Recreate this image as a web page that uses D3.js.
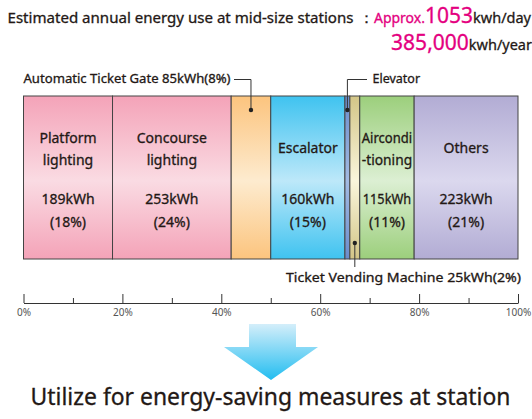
<!DOCTYPE html>
<html>
<head>
<meta charset="utf-8">
<script src="https://cdn.jsdelivr.net/npm/d3@7"></script>
<style>
  body { margin: 0; background: #fff; }
  svg { display: block; font-family: "Noto Sans", "DejaVu Sans", sans-serif; }
  .heavy { stroke: currentColor; stroke-width: 0.3px; }
</style>
</head>
<body>
<div id="chart"></div>
<script>
// data
var categories = ["Platform lighting", "Concourse lighting", "Automatic Ticket Gate", "Escalator",
                  "Elevator", "Ticket Vending Machine", "Airconditioning", "Others"];
var pctValues = [18, 24, 8, 15, 1, 2, 11, 21];
var kwhValues = [189, 253, 85, 160, null, 25, 115, 223];
var nameLines = [["Platform", "lighting"], ["Concourse", "lighting"], null, ["Escalator"],
                 null, null, ["Aircondi", "-tioning"], ["Others"]];
var majorTicks = [0, 20, 40, 60, 80, 100];
var minorTicks = [10, 30, 50, 70, 90];
var dailyUse = "1053";
var yearlyUse = "385,000";

var ctx = {
    w: 532,
    h: 419,
    barTop: 96,
    barBottom: 259,
    axisY: 303,
    textColor: "#231815",
    pink: "#e4007f",
    baseColors: ["#f4a3b8", "#f4a3b8", "#fcc47e", "#3fc3f0", "#6b8dcb", "#d2c587", "#9ccf7c", "#b2acd4"],
    lightColors: ["#fadbe3", "#fadbe3", "#fdebcf", "#bde8f9", "#a3bbe2", "#faf6dc", "#dcefd3", "#dbd8ee"]
};

var svg = d3.select("#chart").append("svg")
    .attr("width", ctx.w)
    .attr("height", ctx.h)
    .style("color", ctx.textColor);

var x = d3.scaleLinear().domain([0, 100]).range([23.5, 518]);

// cumulative start of each segment
var starts = [];
var acc = 0;
pctValues.forEach(function(p) { starts.push(acc); acc += p; });

var segs = categories.map(function(c, i) {
    return { name: c, pct: pctValues[i], kwh: kwhValues[i], start: starts[i], lines: nameLines[i], i: i };
});

// gradients
var defs = svg.append("defs");
segs.forEach(function(d) {
    var g = defs.append("linearGradient")
        .attr("id", "grad" + d.i)
        .attr("x1", 0).attr("y1", 0).attr("x2", 0).attr("y2", 1);
    g.append("stop").attr("offset", "0%").attr("stop-color", ctx.baseColors[d.i]);
    g.append("stop").attr("offset", "52%").attr("stop-color", ctx.lightColors[d.i]);
    g.append("stop").attr("offset", "100%").attr("stop-color", ctx.baseColors[d.i]);
});
var ag = defs.append("linearGradient")
    .attr("id", "arrowGrad")
    .attr("x1", 0).attr("y1", 0).attr("x2", 0).attr("y2", 1);
ag.append("stop").attr("offset", "0%").attr("stop-color", "#d4eefa");
ag.append("stop").attr("offset", "100%").attr("stop-color", "#22bdf0");

// title
svg.append("text")
    .attr("class", "heavy")
    .attr("x", 7.5).attr("y", 23)
    .attr("font-size", 14.5)
    .attr("fill", ctx.textColor)
    .attr("textLength", 346)
    .attr("lengthAdjust", "spacingAndGlyphs")
    .text("Estimated annual energy use at mid-size stations");

var t1 = svg.append("text")
    .attr("x", 531).attr("y", 23)
    .attr("text-anchor", "end")
    .attr("font-size", 14.5)
    .attr("fill", ctx.textColor)
    .attr("stroke", ctx.textColor)
    .attr("stroke-width", 0.3);
t1.append("tspan").text("：");
t1.append("tspan").attr("fill", ctx.pink).attr("stroke", ctx.pink).attr("font-size", 14).text("Approx.");
t1.append("tspan").attr("fill", ctx.pink).attr("stroke", ctx.pink).attr("font-size", 21).text(dailyUse);
t1.append("tspan").text("kwh/day");

var t2 = svg.append("text")
    .attr("x", 532).attr("y", 50)
    .attr("text-anchor", "end")
    .attr("font-size", 14.5)
    .attr("fill", ctx.textColor)
    .attr("stroke", ctx.textColor)
    .attr("stroke-width", 0.3);
t2.append("tspan").attr("fill", ctx.pink).attr("stroke", ctx.pink).attr("font-size", 21).text(yearlyUse);
t2.append("tspan").text("kwh/year");

// bar segments
var bar = svg.append("g").attr("id", "bar");
bar.selectAll("rect")
    .data(segs)
    .enter()
    .append("rect")
    .attr("x", d => x(d.start))
    .attr("y", ctx.barTop)
    .attr("width", d => x(d.start + d.pct) - x(d.start))
    .attr("height", ctx.barBottom - ctx.barTop)
    .attr("fill", d => "url(#grad" + d.i + ")")
    .attr("stroke", "#444")
    .attr("stroke-width", 1);

// labels inside the bar
var labelled = segs.filter(d => d.lines);
var lab = bar.selectAll(".seglabel")
    .data(labelled)
    .enter()
    .append("g")
    .attr("class", "seglabel heavy")
    .attr("transform", d => "translate(" + (x(d.start) + x(d.start + d.pct)) / 2 + ",0)")
    .attr("font-size", 14)
    .attr("fill", ctx.textColor)
    .attr("text-anchor", "middle");

lab.each(function(d) {
    var g = d3.select(this);
    var ys = d.lines.length == 2 ? [143, 165] : [153];
    var segW = x(d.start + d.pct) - x(d.start);
    d.lines.forEach(function(line, k) {
        var t = g.append("text").attr("y", ys[k]).text(line);
        if (segW < 60) {
            t.attr("textLength", segW - 4).attr("lengthAdjust", "spacingAndGlyphs");
        }
    });
    g.append("text").attr("y", 204).text(d.kwh + "kWh")
        .attr("textLength", segW < 60 ? segW - 6 : null)
        .attr("lengthAdjust", "spacingAndGlyphs");
    g.append("text").attr("y", 227).text("(" + d.pct + "%)");
});

// callouts
var call = svg.append("g").attr("id", "callouts")
    .attr("stroke", "#333")
    .attr("fill", "none")
    .attr("stroke-width", 1);

var mid = function(i) { return (x(segs[i].start) + x(segs[i].start + segs[i].pct)) / 2; };

// Automatic ticket gate
call.append("path").attr("d", "M234," + 79.5 + "H" + mid(2) + "V110");
svg.append("circle").attr("cx", mid(2)).attr("cy", 110).attr("r", 2.2).attr("fill", "#222");
svg.append("text")
    .attr("class", "heavy")
    .attr("x", 23.5).attr("y", 83)
    .attr("font-size", 12.5)
    .attr("fill", ctx.textColor)
    .attr("textLength", 207)
    .attr("lengthAdjust", "spacingAndGlyphs")
    .text(categories[2] + " " + kwhValues[2] + "kWh(" + pctValues[2] + "%)");

// Elevator
call.append("path").attr("d", "M367,79.5H" + mid(4) + "V110");
svg.append("circle").attr("cx", mid(4)).attr("cy", 110).attr("r", 2.2).attr("fill", "#222");
svg.append("text")
    .attr("class", "heavy")
    .attr("x", 372.5).attr("y", 83)
    .attr("font-size", 12.5)
    .attr("fill", ctx.textColor)
    .text(categories[4]);

// Ticket vending machine
call.append("path").attr("d", "M" + mid(5) + ",243V267");
svg.append("circle").attr("cx", mid(5)).attr("cy", 243).attr("r", 2.2).attr("fill", "#222");
svg.append("text")
    .attr("class", "heavy")
    .attr("x", 286).attr("y", 282)
    .attr("font-size", 12.5)
    .attr("fill", ctx.textColor)
    .attr("textLength", 235)
    .attr("lengthAdjust", "spacingAndGlyphs")
    .text(categories[5] + " " + kwhValues[5] + "kWh(" + pctValues[5] + "%)");

// axis
var axisG = svg.append("g").attr("transform", "translate(0," + ctx.axisY + ")");
axisG.call(d3.axisBottom(x)
    .tickValues(majorTicks)
    .tickSizeInner(-9)
    .tickSizeOuter(0)
    .tickPadding(6)
    .tickFormat(d => d + "%"));
axisG.append("g").call(d3.axisBottom(x)
    .tickValues(minorTicks)
    .tickSizeInner(-5)
    .tickSizeOuter(0)
    .tickFormat(""))
    .select(".domain").remove();
axisG.selectAll("line, path").attr("stroke", "#333");
axisG.selectAll("text")
    .attr("font-family", "\"Noto Sans\", sans-serif")
    .attr("font-size", 10)
    .attr("fill", "#555");

// arrow
var arrowPts = [[249, 324], [296, 324], [296, 347], [318, 347], [271, 380], [224, 347], [249, 347]];
svg.append("path")
    .attr("d", d3.line()(arrowPts) + "Z")
    .attr("fill", "url(#arrowGrad)");

// bottom caption
svg.append("text")
    .attr("class", "heavy")
    .attr("x", 30.5).attr("y", 405)
    .attr("font-size", 23)
    .attr("fill", ctx.textColor)
    .attr("textLength", 480)
    .attr("lengthAdjust", "spacingAndGlyphs")
    .text("Utilize for energy-saving measures at station");
</script>
</body>
</html>
